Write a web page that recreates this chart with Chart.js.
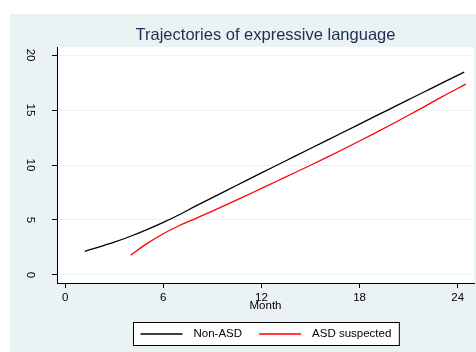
<!DOCTYPE html>
<html>
<head>
<meta charset="utf-8">
<title>Trajectories of expressive language</title>
<script src="https://cdn.jsdelivr.net/npm/chart.js@4.4.1/dist/chart.umd.min.js"></script>
<style>
  html, body { margin: 0; padding: 0; background: #fff; }
</style>
</head>
<body>
<canvas id="chart" width="476" height="352"></canvas>
<script>
// values (month, score)
const nonAsdMonths = [1.2, 2, 3, 4, 5, 6, 7, 8, 9, 10, 11, 12, 13, 14, 15, 16, 17, 18, 19, 20, 21, 22, 23, 24.4];
const nonAsdScores = [2.15, 2.52, 2.98, 3.52, 4.12, 4.78, 5.5, 6.28, 7.03, 7.78, 8.53, 9.28, 10.02, 10.76, 11.5, 12.24, 12.98, 13.72, 14.46, 15.2, 15.94, 16.68, 17.42, 18.45];
const asdMonths = [4, 5, 6, 7, 8, 9, 10, 11, 12, 13, 14, 15, 16, 17, 18, 19, 20, 21, 22, 23, 24.5];
const asdScores = [1.8, 2.85, 3.75, 4.5, 5.15, 5.8, 6.48, 7.17, 7.87, 8.57, 9.27, 9.98, 10.7, 11.43, 12.18, 12.95, 13.73, 14.52, 15.33, 16.17, 17.35];

const xTicks = [0, 6, 12, 18, 24];
const yTicks = [0, 5, 10, 15, 20];
const seriesLabels = ['Non-ASD', 'ASD suspected'];
const seriesColors = ['#000000', '#ff0000'];
const titleText = 'Trajectories of expressive language';
const xTitle = 'Month';

const FONT = '"Liberation Sans", Arial, sans-serif';
const panelColor = '#eaf2f3';

function toPoints(xs, ys) {
  return xs.map((x, i) => ({ x: x, y: ys[i] }));
}

// background panel, title and boxed legend (Stata look)
const stataLook = {
  id: 'stataLook',
  beforeDraw(chart) {
    const ctx = chart.ctx;
    const a = chart.chartArea;
    ctx.save();
    ctx.fillStyle = '#ffffff';
    ctx.fillRect(0, 0, chart.width, chart.height);
    ctx.fillStyle = panelColor;
    ctx.fillRect(10, 14, chart.width - 10, chart.height - 14);
    ctx.fillStyle = '#ffffff';
    ctx.fillRect(a.left, a.top, a.right - a.left, a.bottom - a.top);
    ctx.restore();
  },
  afterDraw(chart) {
    const ctx = chart.ctx;
    const a = chart.chartArea;
    const cx = (a.left + a.right) / 2;
    ctx.save();
    // title
    ctx.font = '16.5px ' + FONT;
    ctx.fillStyle = '#1e2d53';
    ctx.textAlign = 'center';
    ctx.textBaseline = 'alphabetic';
    ctx.fillText(titleText, cx, 40);

    // legend
    ctx.font = '11.5px ' + FONT;
    const sets = chart.data.datasets;
    const lineLen = 42, gapText = 11, gapItem = 17, padL = 7, padR = 8;
    let total = padL + padR;
    sets.forEach((ds, i) => {
      total += lineLen + gapText + ctx.measureText(ds.label).width;
      if (i < sets.length - 1) total += gapItem;
    });
    const boxTop = 322, boxH = 23;
    const boxLeft = Math.round(cx - total / 2) + 0.5;
    ctx.fillStyle = '#ffffff';
    ctx.fillRect(boxLeft, boxTop + 0.5, total, boxH);
    ctx.strokeStyle = '#000000';
    ctx.lineWidth = 1;
    ctx.strokeRect(boxLeft, boxTop + 0.5, total, boxH);
    const midY = boxTop + boxH / 2 + 0.5;
    let x = boxLeft + padL;
    sets.forEach(ds => {
      ctx.strokeStyle = ds.borderColor;
      ctx.lineWidth = 1.3;
      ctx.beginPath();
      ctx.moveTo(x, midY);
      ctx.lineTo(x + lineLen, midY);
      ctx.stroke();
      x += lineLen + gapText;
      ctx.fillStyle = '#000000';
      ctx.textAlign = 'left';
      ctx.textBaseline = 'middle';
      ctx.fillText(ds.label, x, midY);
      x += ctx.measureText(ds.label).width + gapItem;
    });
    ctx.restore();
  }
};

const ctx = document.getElementById('chart').getContext('2d');
new Chart(ctx, {
  type: 'line',
  data: {
    datasets: [
      {
        label: seriesLabels[0],
        data: toPoints(nonAsdMonths, nonAsdScores),
        borderColor: seriesColors[0],
        backgroundColor: seriesColors[0],
        borderWidth: 1.3,
        pointRadius: 0,
        cubicInterpolationMode: 'monotone',
        fill: false
      },
      {
        label: seriesLabels[1],
        data: toPoints(asdMonths, asdScores),
        borderColor: seriesColors[1],
        backgroundColor: seriesColors[1],
        borderWidth: 1.3,
        pointRadius: 0,
        cubicInterpolationMode: 'monotone',
        fill: false
      }
    ]
  },
  options: {
    responsive: false,
    animation: false,
    layout: { padding: { left: 0, right: 2, top: 47, bottom: 39 } },
    plugins: {
      legend: { display: false },
      title: { display: false },
      tooltip: { enabled: false }
    },
    scales: {
      x: {
        type: 'linear',
        position: 'bottom',
        min: -0.5,
        max: 25,
        afterBuildTicks: s => { s.ticks = xTicks.map(v => ({ value: v })); },
        afterFit: s => { s.height = 30; },
        ticks: {
          color: '#000',
          padding: 3,
          maxRotation: 0,
          font: { family: FONT, size: 11.5 }
        },
        grid: {
          drawOnChartArea: false,
          tickColor: '#000',
          tickLength: 5
        },
        border: { color: '#000', width: 1 },
        title: {
          display: true,
          text: xTitle,
          color: '#000',
          padding: 0,
          font: { family: FONT, size: 11.5 }
        }
      },
      y: {
        type: 'linear',
        position: 'left',
        min: -0.73,
        max: 20.73,
        afterBuildTicks: s => { s.ticks = yTicks.map(v => ({ value: v })); },
        afterFit: s => { s.width = 57; },
        ticks: {
          color: '#000',
          padding: 15,
          minRotation: -90,
          maxRotation: -90,
          crossAlign: 'center',
          font: { family: FONT, size: 11.5 }
        },
        grid: {
          color: panelColor,
          lineWidth: 1,
          tickColor: '#000',
          tickLength: 5
        },
        border: { color: '#000', width: 1 }
      }
    }
  },
  plugins: [stataLook]
});
</script>
</body>
</html>
